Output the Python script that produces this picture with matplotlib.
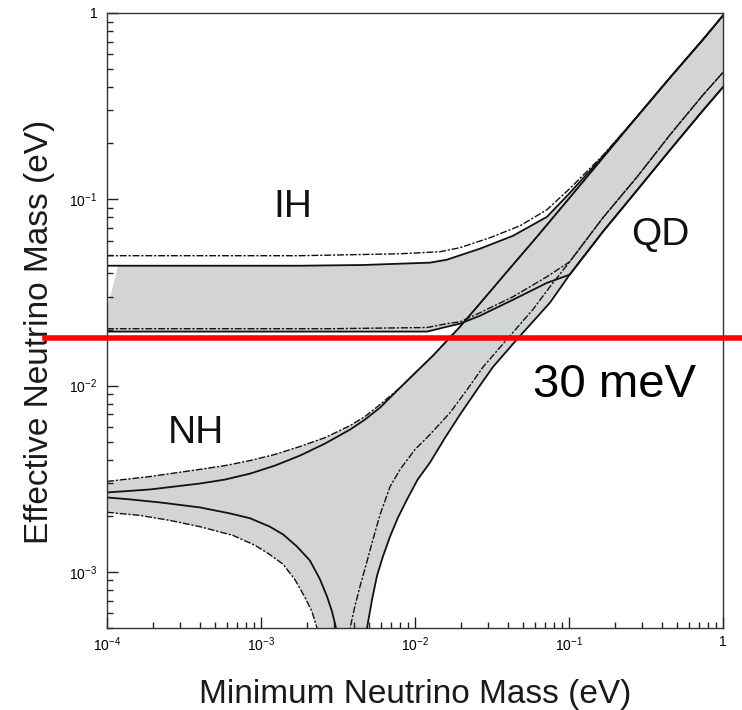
import numpy as np
import matplotlib
matplotlib.use("Agg")
import matplotlib.pyplot as plt

plt.rcParams['font.family'] = ['Liberation Sans', 'DejaVu Sans']
plt.rcParams['mathtext.fontset'] = 'custom'
plt.rcParams['mathtext.rm'] = 'Liberation Sans'
plt.rcParams['mathtext.it'] = 'Liberation Sans:italic'

# axis ticks
x_ticks = [1e-4, 1e-3, 1e-2, 1e-1, 1]
x_ticklabels = ['$10^{-4}$', '$10^{-3}$', '$10^{-2}$', '$10^{-1}$', '1']
y_ticks = [1e-3, 1e-2, 1e-1, 1]
y_ticklabels = ['$10^{-3}$', '$10^{-2}$', '$10^{-1}$', '1']

# normal hierarchy, upper edge (dash-dot = 3 sigma, solid = best fit)
nh_up_x = [1.0e-4, 1.9e-4, 4.0e-4, 5.83e-4, 8.5e-4, 1.23e-3, 1.79e-3, 2.61e-3, 3.79e-3,
           4.73e-3, 5.93e-3, 8.0e-3, 1.31e-2, 1.96e-2, 2.77e-2, 4.33e-2, 6.19e-2, 0.101,
           0.166, 0.277, 0.453, 0.741, 1.0]
nh_up_y = [2.67e-3, 2.77e-3, 2.98e-3, 3.13e-3, 3.37e-3, 3.72e-3, 4.21e-3, 4.89e-3, 5.81e-3,
           6.57e-3, 7.62e-3, 9.75e-3, 1.45e-2, 2.07e-2, 2.89e-2, 4.46e-2, 6.29e-2, 0.102,
           0.167, 0.278, 0.45, 0.72, 0.97]
nh_up_dd_x = nh_up_x
nh_up_dd_y = [3.06e-3, 3.25e-3, 3.55e-3, 3.72e-3, 3.96e-3, 4.27e-3, 4.71e-3, 5.26e-3, 6.10e-3,
              6.82e-3, 7.91e-3, 9.75e-3, 1.45e-2, 2.07e-2, 2.89e-2, 4.46e-2, 6.29e-2, 0.102,
              0.167, 0.278, 0.45, 0.72, 0.97]

# normal hierarchy, lower edge left of the cancellation
nh_lo_x = [1.0e-4, 1.41e-4, 2.21e-4, 4.0e-4, 6.30e-4, 8.5e-4, 1.14e-3, 1.39e-3, 1.71e-3,
           2.08e-3, 2.42e-3, 2.68e-3, 2.89e-3, 3.07e-3, 3.26e-3]
nh_lo_y = [2.51e-3, 2.45e-3, 2.36e-3, 2.22e-3, 2.06e-3, 1.94e-3, 1.75e-3, 1.59e-3, 1.37e-3,
           1.15e-3, 9.1e-4, 7.4e-4, 6.14e-4, 5.0e-4, 2.0e-4]
nh_lo_dd_x = [1.0e-4, 1.64e-4, 2.56e-4, 4.0e-4, 6.58e-4, 9.14e-4, 1.14e-3, 1.39e-3, 1.66e-3,
              1.93e-3, 2.14e-3, 2.31e-3, 2.42e-3]
nh_lo_dd_y = [2.09e-3, 2.01e-3, 1.89e-3, 1.75e-3, 1.57e-3, 1.39e-3, 1.24e-3, 1.10e-3, 9.1e-4,
              7.3e-4, 6.14e-4, 5.0e-4, 2.0e-4]

# normal hierarchy, lower edge right of the cancellation
nh_r_dd_x = [3.61e-3, 3.79e-3, 4.07e-3, 4.40e-3, 4.88e-3, 5.33e-3, 5.93e-3, 6.89e-3, 8.0e-3,
             1.0e-2, 1.25e-2, 1.69e-2, 2.18e-2, 2.77e-2, 3.95e-2, 5.83e-2, 7.53e-2, 0.101,
             0.166, 0.277, 0.453, 0.741, 1.0]
nh_r_dd_y = [2.0e-4, 5.0e-4, 6.53e-4, 8.4e-4, 1.14e-3, 1.49e-3, 2.03e-3, 2.87e-3, 3.55e-3,
             4.54e-3, 5.46e-3, 7.16e-3, 9.52e-3, 1.26e-2, 1.77e-2, 2.56e-2, 3.40e-2, 4.62e-2,
             7.96e-2, 0.132, 0.222, 0.363, 0.48]
nh_r_x = [4.67e-3, 4.88e-3, 5.26e-3, 5.66e-3, 6.19e-3, 6.89e-3, 7.76e-3, 8.88e-3, 1.04e-2,
          1.25e-2, 1.57e-2, 1.96e-2, 2.53e-2, 3.21e-2, 4.59e-2, 7.53e-2, 0.101, 0.166, 0.277,
          0.453, 0.741, 1.0]
nh_r_y = [2.0e-4, 5.0e-4, 7.1e-4, 9.5e-4, 1.21e-3, 1.55e-3, 1.96e-3, 2.45e-3, 3.13e-3,
          3.86e-3, 5.26e-3, 6.99e-3, 9.52e-3, 1.26e-2, 1.77e-2, 2.79e-2, 3.94e-2, 6.7e-2,
          0.112, 0.184, 0.30, 0.40]

# inverted hierarchy band
ih_up_dd_x = [1.0e-4, 1.79e-3, 8.0e-3, 1.45e-2, 1.96e-2, 3.07e-2, 4.81e-2, 7.19e-2, 0.101,
              0.166, 0.277, 0.453, 0.741, 1.0]
ih_up_dd_y = [4.98e-2, 4.98e-2, 5.10e-2, 5.23e-2, 5.50e-2, 6.22e-2, 7.21e-2, 8.79e-2, 0.114,
              0.172, 0.278, 0.45, 0.72, 0.97]
ih_up_x = [1.0e-4, 1.79e-3, 4.59e-3, 1.25e-2, 1.61e-2, 2.64e-2, 4.33e-2, 7.19e-2, 0.101,
           0.166, 0.277, 0.453, 0.741, 1.0]
ih_up_y = [4.40e-2, 4.40e-2, 4.44e-2, 4.57e-2, 4.74e-2, 5.43e-2, 6.37e-2, 8.05e-2, 0.108,
           0.170, 0.278, 0.45, 0.72, 0.97]
ih_lo_dd_x = [1.0e-4, 2.81e-3, 1.20e-2, 1.61e-2, 1.96e-2, 2.64e-2, 4.33e-2, 7.19e-2, 0.101,
              0.166, 0.277, 0.453, 0.741, 1.0]
ih_lo_dd_y = [2.02e-2, 2.02e-2, 2.05e-2, 2.15e-2, 2.20e-2, 2.46e-2, 3.00e-2, 3.84e-2, 4.62e-2,
              7.96e-2, 0.132, 0.222, 0.363, 0.48]
ih_lo_x = [1.0e-4, 1.20e-2, 1.61e-2, 1.96e-2, 2.64e-2, 4.33e-2, 7.19e-2, 0.101,
           0.166, 0.277, 0.453, 0.741, 1.0]
ih_lo_y = [1.95e-2, 1.95e-2, 2.07e-2, 2.15e-2, 2.37e-2, 2.89e-2, 3.56e-2, 3.94e-2,
           6.7e-2, 0.112, 0.184, 0.30, 0.40]
# left edge of the shaded IH band
ih_edge_x = [1.0e-4, 1.08e-4, 1.18e-4]
ih_edge_y = [2.65e-2, 3.27e-2, 4.40e-2]

# horizontal reference level and its label
ref_level = 0.0179
ref_label = '30 meV'

band_color = '#d3d4d6'
line_color = '#111111'
dashdot = (5.0, 1.3, 1.6, 1.3)

fig = plt.figure(figsize=(7.42, 7.10), dpi=100)
ax = fig.add_axes([0.1442, 0.1155, 0.8302, 0.8662])
ax.set_xscale('log')
ax.set_yscale('log')
ax.set_xlim(1e-4, 1)
ax.set_ylim(5e-4, 1)

# shaded regions
nh_poly_x = np.concatenate([nh_up_dd_x, nh_r_x[::-1], nh_lo_dd_x[::-1]])
nh_poly_y = np.concatenate([nh_up_dd_y, nh_r_y[::-1], nh_lo_dd_y[::-1]])
ax.fill(nh_poly_x, nh_poly_y, color=band_color, lw=0, zorder=1)

ih_poly_x = np.concatenate([ih_edge_x, ih_up_x[1:], ih_lo_x[::-1]])
ih_poly_y = np.concatenate([ih_edge_y, ih_up_y[1:], ih_lo_y[::-1]])
ax.fill(ih_poly_x, ih_poly_y, color=band_color, lw=0, zorder=1)

for xs, ys in [(nh_up_x, nh_up_y), (nh_lo_x, nh_lo_y), (nh_r_x, nh_r_y),
               (ih_up_x, ih_up_y), (ih_lo_x, ih_lo_y)]:
    ax.plot(xs, ys, color=line_color, lw=1.3, zorder=2)
for xs, ys in [(nh_up_dd_x, nh_up_dd_y), (nh_lo_dd_x, nh_lo_dd_y), (nh_r_dd_x, nh_r_dd_y),
               (ih_up_dd_x, ih_up_dd_y), (ih_lo_dd_x, ih_lo_dd_y)]:
    ax.plot(xs, ys, color=line_color, lw=1.0, dashes=dashdot, zorder=2)

ax.text(1.61e-3, 0.0805, 'IH', fontsize=28, ha='center', va='baseline', color=line_color)
ax.text(3.78e-4, 4.95e-3, 'NH', fontsize=28, ha='center', va='baseline', color=line_color)
ax.text(0.39, 0.057, 'QD', fontsize=28, ha='center', va='baseline', color=line_color)

ax.axhline(ref_level, xmin=-0.1, xmax=1.04, color='red', lw=4, clip_on=False, zorder=4)
ax.text(0.196, 8.73e-3, ref_label, fontsize=34, ha='center', va='baseline', color='black')

ax.set_xticks(x_ticks, x_ticklabels)
ax.set_yticks(y_ticks, y_ticklabels)
ax.tick_params(which='both', direction='in', top=False, right=False, width=1.0,
               color='#222222', labelsize=10)
ax.tick_params(which='major', length=8)
ax.tick_params(which='minor', length=4.5)
ax.tick_params(axis='x', pad=5)
ax.tick_params(axis='y', pad=7)
for sp in ax.spines.values():
    sp.set_linewidth(1.0)
    sp.set_color('#333333')

ax.set_xlabel('Minimum Neutrino Mass (eV)', fontsize=24, labelpad=18, color='#1a1a1a')
ax.set_ylabel('Effective Neutrino Mass (eV)', fontsize=24, labelpad=10, color='#1a1a1a')
ax.yaxis.label.set_y(0.481)

fig.savefig('out.png', dpi=100)
